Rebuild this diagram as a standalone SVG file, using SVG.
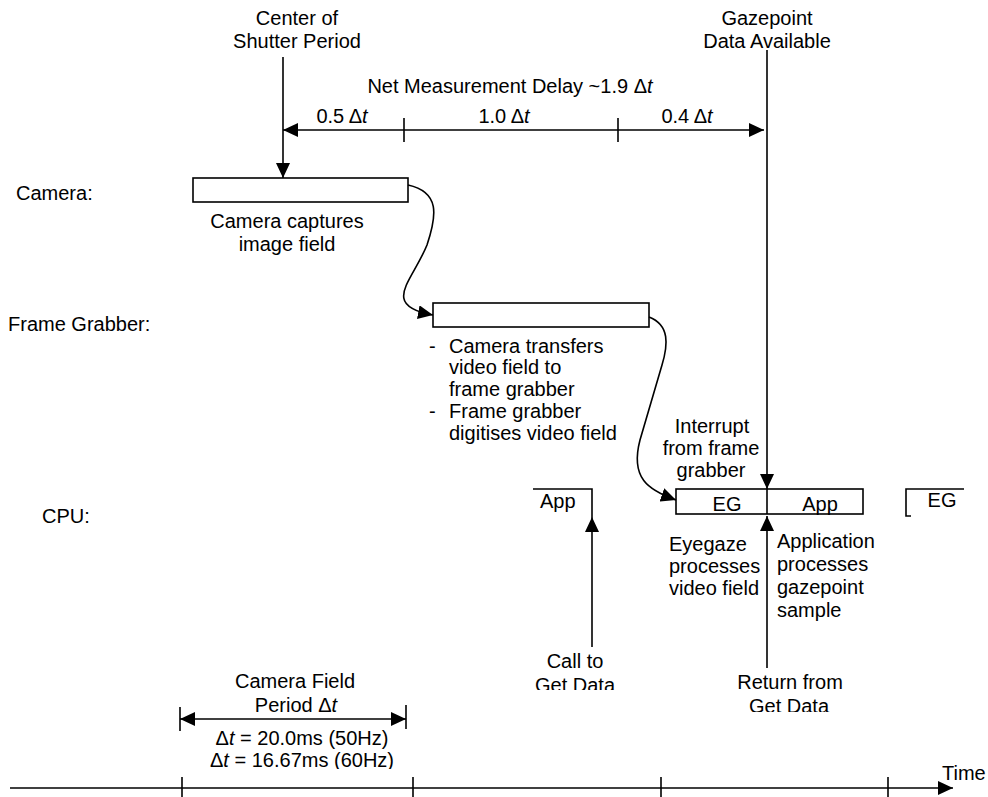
<svg xmlns="http://www.w3.org/2000/svg" width="988" height="797" viewBox="0 0 988 797">
<style>
text{font-family:"Liberation Sans",Arial,sans-serif;font-size:20px;fill:#000}
.m{text-anchor:middle}
.i{font-style:italic}
.ln{stroke:#000;stroke-width:1.6;fill:none}
.bx{stroke:#000;stroke-width:1.6;fill:#fff}
</style>
<defs>
<marker id="ah" markerUnits="userSpaceOnUse" markerWidth="15" markerHeight="14" viewBox="0 0 15 14" refX="15" refY="7" orient="auto-start-reverse">
<path d="M0,0 L15,7 L0,14 z" fill="#000"/>
</marker>
<clipPath id="c1" clipPathUnits="userSpaceOnUse"><rect x="500" y="600" width="150" height="90"/></clipPath>
<clipPath id="c2" clipPathUnits="userSpaceOnUse"><rect x="700" y="650" width="200" height="62"/></clipPath>
<clipPath id="c3" clipPathUnits="userSpaceOnUse"><rect x="180" y="720" width="260" height="49"/></clipPath>
</defs>

<g id="row-labels">
<text x="16" y="200">Camera:</text>
<text x="8" y="331">Frame Grabber:</text>
<text x="42" y="523">CPU:</text>
</g>

<g id="center-shutter">
<text class="m" x="297" y="25">Center of</text>
<text class="m" x="297" y="48">Shutter Period</text>
</g>

<g id="gazepoint-available">
<text class="m" x="767" y="25">Gazepoint</text>
<text class="m" x="767" y="48">Data Available</text>
</g>

<g id="net-delay">
<text class="m" x="510" y="93">Net Measurement Delay ~1.9 Δ<tspan class="i">t</tspan></text>
<text class="m" x="342" y="123">0.5 Δ<tspan class="i">t</tspan></text>
<text class="m" x="504" y="123">1.0 Δ<tspan class="i">t</tspan></text>
<text class="m" x="687" y="123">0.4 Δ<tspan class="i">t</tspan></text>
</g>

<g id="camera">
<rect class="bx" x="193" y="178" width="215" height="24"/>
<text class="m" x="287" y="228">Camera captures</text>
<text class="m" x="287" y="251">image field</text>
</g>

<g id="frame-grabber">
<rect class="bx" x="433" y="303" width="216" height="24"/>
<text x="429" y="353">-</text>
<text x="449" y="353">Camera transfers</text>
<text x="449" y="374">video field to</text>
<text x="449" y="396">frame grabber</text>
<text x="429" y="418">-</text>
<text x="449" y="418">Frame grabber</text>
<text x="449" y="440">digitises video field</text>
</g>

<g id="cpu-app-left">
<path class="ln" d="M533,489 H592 V517"/>
<text x="540" y="508">App</text>
</g>

<g id="cpu-eg-app">
<rect class="bx" x="676" y="489" width="187" height="25"/>
<line class="ln" x1="767" y1="489" x2="767" y2="514"/>
<text class="m" x="727" y="511">EG</text>
<text class="m" x="820" y="511">App</text>
</g>

<g id="cpu-eg-right">
<path class="ln" d="M964,489 H906 V516 H911"/>
<text class="m" x="942" y="507">EG</text>
</g>

<g id="interrupt-label">
<text class="m" x="712" y="433">Interrupt</text>
<text class="m" x="711" y="455">from frame</text>
<text class="m" x="711" y="477">grabber</text>
</g>

<g id="eyegaze-label">
<text x="669" y="551">Eyegaze</text>
<text x="669" y="573">processes</text>
<text x="669" y="595">video field</text>
</g>

<g id="application-label">
<text x="777" y="548">Application</text>
<text x="777" y="571">processes</text>
<text x="777" y="594">gazepoint</text>
<text x="777" y="617">sample</text>
</g>

<g id="call-get-data" clip-path="url(#c1)">
<text class="m" x="575" y="668">Call to</text>
<text class="m" x="575" y="692">Get Data</text>
</g>

<g id="return-get-data" clip-path="url(#c2)">
<text class="m" x="790" y="689">Return from</text>
<text class="m" x="789" y="713">Get Data</text>
</g>

<g id="camera-field-period">
<text class="m" x="295" y="688">Camera Field</text>
<text class="m" x="296" y="712">Period Δ<tspan class="i">t</tspan></text>
<g clip-path="url(#c3)">
<text class="m" x="302" y="745">Δ<tspan class="i">t</tspan> = 20.0ms (50Hz)</text>
<text class="m" x="302" y="767">Δ<tspan class="i">t</tspan> = 16.67ms (60Hz)</text>
</g>
</g>

<g id="time-axis">
<text x="942" y="780">Time</text>
</g>

<g id="connectors">
<line class="ln" x1="283" y1="57" x2="283" y2="178" marker-end="url(#ah)"/>
<line class="ln" x1="283" y1="130" x2="764" y2="130" marker-start="url(#ah)" marker-end="url(#ah)"/>
<line class="ln" x1="404" y1="118" x2="404" y2="142"/>
<line class="ln" x1="618" y1="118" x2="618" y2="142"/>
<line class="ln" x1="767" y1="50" x2="767" y2="489" marker-end="url(#ah)"/>
<path class="ln" d="M408,185 C440,192 437,215 427,245 C412,282 380,305 433,315" marker-end="url(#ah)"/>
<path class="ln" d="M649,317 C670,325 668,345 662,365 L640,440 C630,478 648,490 676,500" marker-end="url(#ah)"/>
<line class="ln" x1="592" y1="647" x2="592" y2="517" marker-end="url(#ah)"/>
<line class="ln" x1="767" y1="668" x2="767" y2="516" marker-end="url(#ah)"/>
<line class="ln" x1="180" y1="719" x2="406" y2="719" marker-start="url(#ah)" marker-end="url(#ah)"/>
<line class="ln" x1="180" y1="707" x2="180" y2="731"/>
<line class="ln" x1="406" y1="705" x2="406" y2="729"/>
<line class="ln" x1="10" y1="788" x2="953" y2="788" marker-end="url(#ah)"/>
<line class="ln" x1="182" y1="777" x2="182" y2="797"/>
<line class="ln" x1="413" y1="777" x2="413" y2="797"/>
<line class="ln" x1="661" y1="777" x2="661" y2="797"/>
<line class="ln" x1="888" y1="777" x2="888" y2="797"/>
</g>
</svg>
